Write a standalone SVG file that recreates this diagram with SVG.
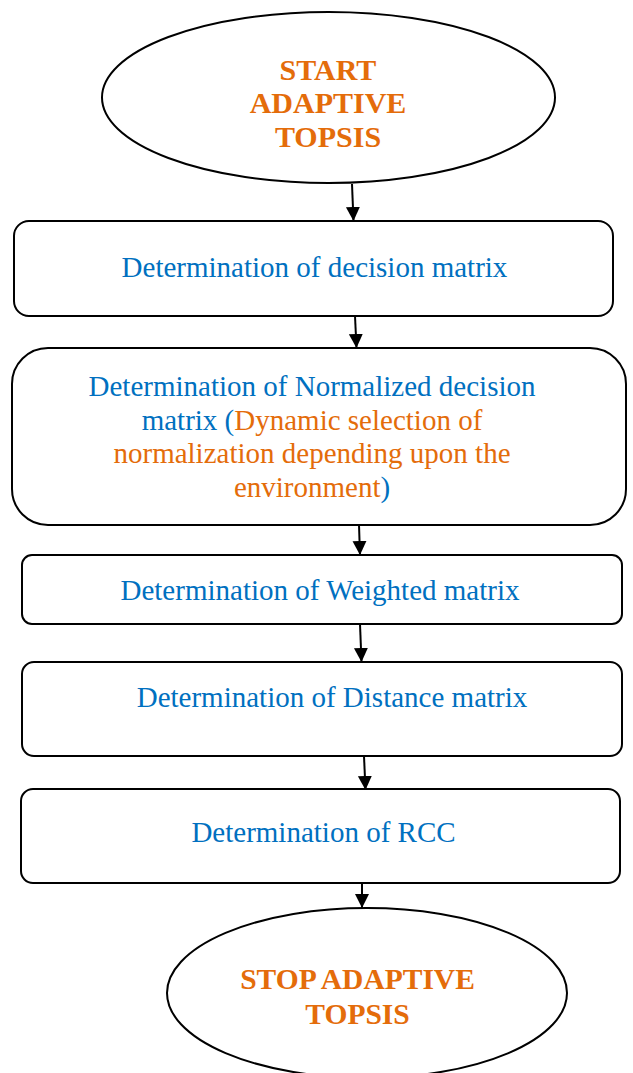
<svg xmlns="http://www.w3.org/2000/svg" width="633" height="1073" viewBox="0 0 633 1073">
<defs>
<style>
.shape{fill:#fff;stroke:#000;stroke-width:2}
.blue{font-family:"Liberation Serif","Times New Roman",serif;font-size:29px;fill:#0070C0}
.or{fill:#E46C0A}
.bl{fill:#0070C0}
.title{font-family:"Liberation Serif","Times New Roman",serif;font-size:30px;font-weight:bold;fill:#E46C0A}
.conn{stroke:#000;stroke-width:2;fill:none;marker-end:url(#ah)}
</style>
<marker id="ah" viewBox="0 0 10 10" refX="10" refY="5" markerWidth="7" markerHeight="7.5" markerUnits="strokeWidth" orient="auto">
<path d="M0,0 L10,5 L0,10 z" fill="#000"/>
</marker>
</defs>
<rect width="633" height="1073" fill="#fff"/>
<g id="connectors">
<line class="conn" x1="352" y1="184" x2="353.5" y2="221"/>
<line class="conn" x1="355" y1="316" x2="356.5" y2="348"/>
<line class="conn" x1="359" y1="525" x2="360" y2="555"/>
<line class="conn" x1="360" y1="624" x2="361.5" y2="662"/>
<line class="conn" x1="364" y1="756" x2="365.5" y2="790"/>
<line class="conn" x1="362" y1="883" x2="362" y2="908"/>
</g>
<g id="start">
<ellipse class="shape" cx="328.5" cy="97.5" rx="226.5" ry="85.5"/>
<text class="title" text-anchor="middle" x="328" y="80">START</text>
<text class="title" text-anchor="middle" x="328" y="113">ADAPTIVE</text>
<text class="title" text-anchor="middle" x="328" y="147">TOPSIS</text>
</g>
<g id="decision">
<rect class="shape" x="14" y="221" width="599" height="95" rx="15"/>
<text class="blue" text-anchor="middle" x="314.5" y="277">Determination of decision matrix</text>
</g>
<g id="normalized">
<rect class="shape" x="12" y="348" width="614" height="177" rx="36"/>
<text class="blue" text-anchor="middle" x="312" y="396">Determination of Normalized decision</text>
<text class="blue" text-anchor="middle" x="312" y="430">matrix (<tspan class="or">Dynamic selection of</tspan></text>
<text class="blue or" text-anchor="middle" x="312" y="463">normalization depending upon the</text>
<text class="blue or" text-anchor="middle" x="312" y="497">environment<tspan class="bl">)</tspan></text>
</g>
<g id="weighted">
<rect class="shape" x="22" y="555" width="600" height="69" rx="10"/>
<text class="blue" text-anchor="middle" x="320" y="600">Determination of Weighted matrix</text>
</g>
<g id="distance">
<rect class="shape" x="22" y="662" width="600" height="94" rx="12"/>
<text class="blue" text-anchor="middle" x="332" y="707">Determination of Distance matrix</text>
</g>
<g id="rcc">
<rect class="shape" x="21" y="789" width="599" height="94" rx="12"/>
<text class="blue" text-anchor="middle" x="323.5" y="842">Determination of RCC</text>
</g>
<g id="stop">
<ellipse class="shape" cx="367" cy="993" rx="200" ry="85"/>
<text class="title" text-anchor="middle" x="357.5" y="989" style="font-size:29.5px">STOP ADAPTIVE</text>
<text class="title" text-anchor="middle" x="357.5" y="1024" style="font-size:29.5px">TOPSIS</text>
</g>
</svg>
